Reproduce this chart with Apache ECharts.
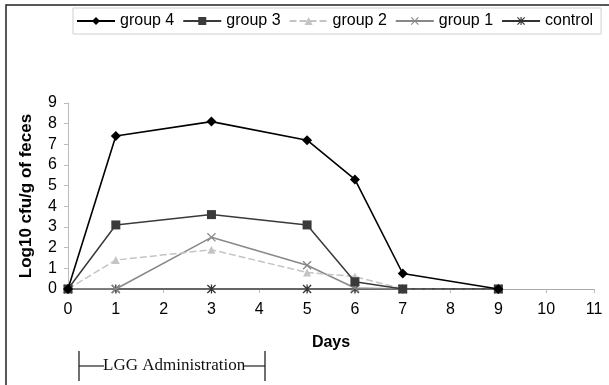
<!DOCTYPE html>
<html>
<head>
<meta charset="utf-8">
<script src="https://cdn.jsdelivr.net/npm/echarts@6/dist/echarts.min.js"></script>
<style>
html,body{margin:0;padding:0;background:#fff;}
#chart{width:609px;height:385px;}
</style>
</head>
<body>
<div id="chart"></div>
<script>
const days = [0, 1, 3, 5, 6, 7, 9];
const group4 = [0, 7.4, 8.1, 7.2, 5.3, 0.75, 0];
const group3 = [0, 3.1, 3.6, 3.1, 0.35, 0, 0];
const group2 = [0, 1.4, 1.9, 0.8, 0.6, 0, 0];
const group1 = [0, 0, 2.5, 1.15, 0.05, 0, 0];
const control = [0, 0, 0, 0, 0, 0, 0];
const xTicks = [0, 1, 2, 3, 4, 5, 6, 7, 8, 9, 10, 11];
const yTicks = [0, 1, 2, 3, 4, 5, 6, 7, 8, 9];

const xSym = 'path://M1,0L5,4L9,0L10,1L6,5L10,9L9,10L5,6L1,10L0,9L4,5L0,1Z';
const starSym = 'path://M1,0L5,4L9,0L10,1L6,5L10,9L9,10L5,6L1,10L0,9L4,5L0,1Z M4.3,0L5.7,0L5.7,10L4.3,10Z';

function pairs(vals) { return days.map((d, i) => [d, vals[i]]); }

const chart = echarts.init(document.getElementById('chart'), null, {renderer: 'canvas'});
const font = 'Liberation Sans, Arial, sans-serif';

chart.setOption({
  animation: false,
  backgroundColor: '#fff',
  grid: {left: 68, right: 15, top: 103, bottom: 96, containLabel: false},
  legend: {
    left: 73, top: 8,
    padding: [5, 8, 5, 3],
    borderColor: '#cfcfcf', borderWidth: 1,
    itemWidth: 38, itemHeight: 10, itemGap: 8,
    textStyle: {fontFamily: font, fontSize: 16, color: '#000'},
    data: ['group 4', 'group 3', 'group 2', 'group 1', 'control']
  },
  xAxis: {
    type: 'value', min: 0, max: 11, interval: 1,
    name: 'Days', nameLocation: 'middle', nameGap: 46,
    nameTextStyle: {fontFamily: font, fontSize: 16, fontWeight: 'bold', color: '#000'},
    axisLine: {show: true, onZero: false, lineStyle: {color: '#aaa', width: 1}},
    axisTick: {show: true, length: 4, lineStyle: {color: '#bbb'}},
    axisLabel: {fontFamily: font, fontSize: 16, color: '#000', margin: 13,
      formatter: v => xTicks.includes(v) ? String(v) : ''},
    splitLine: {show: false}
  },
  yAxis: {
    type: 'value', min: 0, max: 9, interval: 1,
    name: 'Log10 cfu/g of feces', nameLocation: 'middle', nameGap: 33,
    nameTextStyle: {fontFamily: font, fontSize: 17, fontWeight: 'bold', color: '#000'},
    axisLine: {show: true, lineStyle: {color: '#bbb', width: 1}},
    axisTick: {show: true, length: 4, lineStyle: {color: '#bbb'}},
    axisLabel: {fontFamily: font, fontSize: 16, color: '#000', margin: 11,
      formatter: v => yTicks.includes(v) ? String(v) : ''},
    splitLine: {show: false}
  },
  series: [
    {name: 'control', type: 'line', data: pairs(control), z: 2,
      symbol: starSym, symbolSize: 9,
      lineStyle: {color: '#333', width: 1.5},
      itemStyle: {color: '#333'}},
    {name: 'group 1', type: 'line', data: pairs(group1), z: 3,
      symbol: xSym, symbolSize: 9,
      lineStyle: {color: '#888', width: 1.5},
      itemStyle: {color: '#888'}},
    {name: 'group 2', type: 'line', data: pairs(group2), z: 3,
      symbol: 'triangle', symbolSize: 8,
      lineStyle: {color: '#c4c4c4', width: 1.5, type: [7, 3]},
      itemStyle: {color: '#c4c4c4'}},
    {name: 'group 3', type: 'line', data: pairs(group3), z: 4,
      symbol: 'rect', symbolSize: 9,
      lineStyle: {color: '#3a3a3a', width: 1.5},
      itemStyle: {color: '#3a3a3a'}},
    {name: 'group 4', type: 'line', data: pairs(group4), z: 5,
      symbol: 'diamond', symbolSize: 10,
      lineStyle: {color: '#000', width: 1.6},
      itemStyle: {color: '#000'}}
  ],
  graphic: [
    {type: 'polyline', silent: true,
      shape: {points: [[6, 385], [6, 5], [609, 5]]},
      style: {stroke: '#222', lineWidth: 1.5, fill: null}},
    {type: 'line', shape: {x1: 79, y1: 351, x2: 79, y2: 381}, style: {stroke: '#222', lineWidth: 1.3}},
    {type: 'line', shape: {x1: 265, y1: 351, x2: 265, y2: 381}, style: {stroke: '#222', lineWidth: 1.3}},
    {type: 'line', shape: {x1: 79, y1: 366, x2: 104, y2: 366}, style: {stroke: '#222', lineWidth: 1.2}},
    {type: 'line', shape: {x1: 244, y1: 366, x2: 265, y2: 366}, style: {stroke: '#222', lineWidth: 1.2}},
    {type: 'text', left: 103, top: 357,
      style: {text: 'LGG Administration', font: '17px "Liberation Serif", "Times New Roman", serif', fill: '#111'}}
  ]
});
</script>
</body>
</html>
